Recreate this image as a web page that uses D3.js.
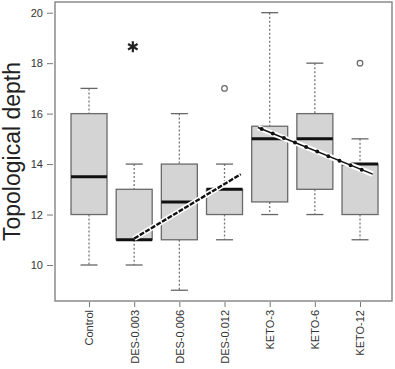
<!DOCTYPE html>
<html><head><meta charset="utf-8">
<script src="https://cdn.jsdelivr.net/npm/d3@7"></script>
<style>body{margin:0;background:#fff}svg{display:block}</style>
</head><body>
<script>
const categories = ["Control","DES-0.003","DES-0.006","DES-0.012","KETO-3","KETO-6","KETO-12"];
const whiskerLow  = [10, 10, 9, 11, 12, 12, 11];
const q1          = [12, 11, 11, 12, 12.5, 13, 12];
const medians     = [13.5, 11, 12.5, 13, 15, 15, 14];
const q3          = [16, 13, 14, 13, 15.5, 16, 14];
const whiskerHigh = [17, 14, 16, 14, 20, 18, 15];
const outliers = [{cat: 3, value: 17}, {cat: 6, value: 18}];
const yTicks = [10, 12, 14, 16, 18, 20];
// trend lines: fractional category position, value
const desTrend  = [{pos: 1.0, value: 11.05}, {pos: 3.36, value: 13.6}];
const ketoTrend = [{pos: 3.74, value: 15.45}, {pos: 6.28, value: 13.6}];
const significance = {pos: 0.97, value: 18.65, mark: "*"};

const W = 395, H = 369;
const frame = {l: 55, r: 392, t: 2, b: 301};
const svg = d3.select("body").append("svg").attr("width", W).attr("height", H);

const x = d3.scaleLinear().domain([-0.753, 6.708]).range([frame.l, frame.r]);
const y = d3.scaleLinear().domain([10, 20]).range([265, 12.7]);
const boxW = 36, capW = 17;

const data = categories.map((c, i) => ({c, i, lo: whiskerLow[i], q1: q1[i], med: medians[i], q3: q3[i], hi: whiskerHigh[i]}));

const g = svg.append("g");
const grp = g.selectAll("g.box").data(data).enter().append("g");
// whiskers
grp.append("line").attr("x1", d => x(d.i)).attr("x2", d => x(d.i))
  .attr("y1", d => y(d.hi)).attr("y2", d => y(d.q3))
  .attr("stroke", "#777").attr("stroke-width", 1.3).attr("stroke-dasharray", "2,2");
grp.append("line").attr("x1", d => x(d.i)).attr("x2", d => x(d.i))
  .attr("y1", d => y(d.q1)).attr("y2", d => y(d.lo))
  .attr("stroke", "#777").attr("stroke-width", 1.3).attr("stroke-dasharray", "2,2");
// caps
["hi", "lo"].forEach(k => {
  grp.append("line").attr("x1", d => x(d.i) - capW / 2).attr("x2", d => x(d.i) + capW / 2)
    .attr("y1", d => y(d[k])).attr("y2", d => y(d[k]))
    .attr("stroke", "#666").attr("stroke-width", 1.3);
});
// boxes
grp.append("rect").attr("x", d => x(d.i) - boxW / 2).attr("width", boxW)
  .attr("y", d => y(d.q3)).attr("height", d => y(d.q1) - y(d.q3))
  .attr("fill", "#d4d4d4").attr("stroke", "#6a6a6a").attr("stroke-width", 1.3);
// medians
grp.append("line").attr("x1", d => x(d.i) - boxW / 2).attr("x2", d => x(d.i) + boxW / 2)
  .attr("y1", d => y(d.med)).attr("y2", d => y(d.med))
  .attr("stroke", "#111").attr("stroke-width", 3);

// outliers
g.selectAll("circle.out").data(outliers).enter().append("circle")
  .attr("cx", d => x(d.cat)).attr("cy", d => y(d.value)).attr("r", 2.8)
  .attr("fill", "none").attr("stroke", "#666").attr("stroke-width", 1.2);

// trend lines
const line = d3.line().x(d => x(d.pos)).y(d => y(d.value));
g.append("path").attr("d", line(desTrend)).attr("fill", "none").attr("stroke", "#fff").attr("stroke-width", 5.5);
g.append("path").attr("d", line(desTrend)).attr("fill", "none").attr("stroke", "#111").attr("stroke-width", 2.4)
  .attr("stroke-dasharray", "5,1.5");
g.append("path").attr("d", line(ketoTrend)).attr("fill", "none").attr("stroke", "#fff").attr("stroke-width", 5.5);
g.append("path").attr("d", line(ketoTrend)).attr("fill", "none").attr("stroke", "#111").attr("stroke-width", 1.5);
g.append("path").attr("d", line(ketoTrend)).attr("fill", "none").attr("stroke", "#111").attr("stroke-width", 4)
  .attr("stroke-linecap", "round").attr("stroke-dasharray", "0,12").attr("stroke-dashoffset", -4);

// significance asterisk
const ax = x(significance.pos), ay = y(significance.value);
const ag = svg.append("g").attr("transform", `translate(${ax},${ay})`);
[90, 30, 150].forEach(a => {
  const r = 5.5, t = a * Math.PI / 180;
  ag.append("line").attr("x1", -r * Math.cos(t)).attr("y1", -r * Math.sin(t))
    .attr("x2", r * Math.cos(t)).attr("y2", r * Math.sin(t))
    .attr("stroke", "#222").attr("stroke-width", 2.2);
});

// frame
svg.append("rect").attr("x", frame.l).attr("y", frame.t).attr("width", frame.r - frame.l).attr("height", frame.b - frame.t)
  .attr("fill", "none").attr("stroke", "#8a8a8a").attr("stroke-width", 1.5);

// y axis
const yAxis = d3.axisLeft(y).tickValues(yTicks).tickSize(6).tickPadding(4).tickFormat(d3.format("d"));
const ya = svg.append("g").attr("transform", `translate(${frame.l - 2},0)`).call(yAxis);
ya.select(".domain").remove();
ya.selectAll("line").attr("stroke", "#777");
ya.selectAll("text").attr("font-family", "Liberation Sans, Arial, sans-serif").attr("font-size", 11).attr("fill", "#333");

// x axis
const xAxis = d3.axisBottom(x).tickValues(d3.range(categories.length)).tickSize(5).tickFormat(i => categories[i]);
const xa = svg.append("g").attr("transform", `translate(0,${frame.b + 1})`).call(xAxis);
xa.select(".domain").remove();
xa.selectAll("line").attr("stroke", "#777");
xa.selectAll("text").attr("font-family", "Liberation Sans, Arial, sans-serif").attr("font-size", 11).attr("fill", "#333")
  .attr("transform", "rotate(-90)").attr("text-anchor", "end").attr("dy", "0.35em").attr("x", -8).attr("y", 0);

// y title
svg.append("text").attr("transform", `translate(20,${(frame.t + frame.b) / 2}) rotate(-90)`)
  .attr("text-anchor", "middle").attr("font-family", "Liberation Sans, Arial, sans-serif")
  .attr("font-size", 23).attr("fill", "#222").text("Topological depth");
</script>
</body></html>
